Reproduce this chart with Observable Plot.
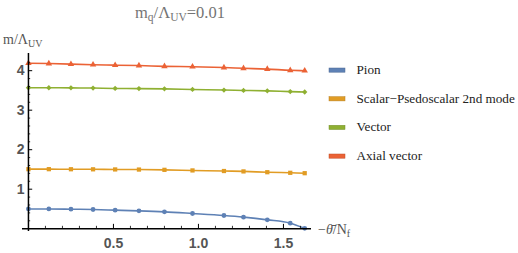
<!DOCTYPE html>
<html>
<head>
<meta charset="utf-8">
<script src="https://cdn.jsdelivr.net/npm/d3@7"></script>
<script src="https://cdn.jsdelivr.net/npm/@observablehq/plot@0.6"></script>
<style>
  html, body { margin: 0; padding: 0; background: #fff; }
  #wrap { position: relative; width: 518px; height: 253px; overflow: hidden; }
  #wrap > svg { position: absolute; left: 0; top: 0; }
</style>
</head>
<body>
<div id="wrap"></div>
<script>
// ---- data ----
const theta  = [0, 0.12, 0.25, 0.38, 0.51, 0.65, 0.8, 0.965, 1.15, 1.265, 1.405, 1.54, 1.625];
const pion   = [0.50, 0.50, 0.494, 0.486, 0.469, 0.452, 0.427, 0.385, 0.334, 0.292, 0.224, 0.14, 0.01];
const scalar = [1.507, 1.507, 1.505, 1.503, 1.50, 1.497, 1.49, 1.475, 1.46, 1.45, 1.43, 1.415, 1.405];
const vector = [3.567, 3.567, 3.565, 3.56, 3.55, 3.547, 3.54, 3.525, 3.51, 3.50, 3.49, 3.47, 3.46];
const axial  = [4.19, 4.18, 4.165, 4.15, 4.14, 4.13, 4.11, 4.10, 4.08, 4.06, 4.04, 4.01, 4.00];
const seriesNames = ["Pion", "Scalar\u2212Psedoscalar 2nd mode", "Vector", "Axial vector"];
const seriesColors = ["#5E81B5", "#E19C24", "#8FB032", "#EB6235"];
const seriesSymbols = ["circle", "square", "diamond2", "triangle"];
const xTicks = [0.5, 1.0, 1.5];
const xTickLabels = ["0.5", "1.0", "1.5"];
const yTicks = [1, 2, 3, 4];
const yTickLabels = ["1", "2", "3", "4"];
const xMinor = d3.range(1, 17).map(i => i / 10).filter(v => Math.abs(v * 2 - Math.round(v * 2)) > 1e-9);
const yMinor = d3.range(1, 22).map(i => i / 5).filter(v => Math.abs(v - Math.round(v)) > 1e-9);

const allValues = [pion, scalar, vector, axial];
const rows = [];
allValues.forEach((vals, s) => vals.forEach((v, i) => rows.push({series: seriesNames[s], x: theta[i], y: v, sym: seriesSymbols[s]})));

const chart = Plot.plot({
  width: 518, height: 253,
  marginLeft: 22, marginRight: 207, marginTop: 53, marginBottom: 22,
  x: {domain: [-0.035, 1.665], axis: null},
  y: {domain: [-0.071, 4.435], axis: null},
  color: {domain: seriesNames, range: seriesColors, legend: false},
  symbol: {domain: seriesSymbols, range: seriesSymbols, legend: false},
  marks: [
    Plot.line(rows, {x: "x", y: "y", z: "series", stroke: "series", strokeWidth: 1.6, curve: "monotone-x"}),
    Plot.dot(rows, {x: "x", y: "y", fill: "series", symbol: "sym", r: 2.4, stroke: "none"}),
    // axes
    Plot.ruleY([0], {stroke: "#000", strokeWidth: 1.5}),
    Plot.ruleX([0], {stroke: "#000", strokeWidth: 1.5}),
    // ticks
    Plot.ruleX(xTicks, {x: d => d, y1: 0, y2: 0.11, stroke: "#000", strokeWidth: 1}),
    Plot.ruleX(xMinor, {x: d => d, y1: 0, y2: 0.06, stroke: "#000", strokeWidth: 0.8}),
    Plot.ruleY(yTicks, {y: d => d, x1: 0, x2: 0.025, stroke: "#000", strokeWidth: 1}),
    Plot.ruleY(yMinor, {y: d => d, x1: 0, x2: 0.013, stroke: "#000", strokeWidth: 0.8}),
    // tick labels
    Plot.text(xTicks, {x: d => d, y: 0, text: (d, i) => xTickLabels[i], dy: 14.5, fill: "#555", fontSize: 14, fontWeight: "bold", fontFamily: "Liberation Sans, Arial, sans-serif"}),
    Plot.text(yTicks, {x: 0, y: d => d, text: (d, i) => yTickLabels[i], dx: -4, textAnchor: "end", fill: "#555", fontSize: 14, fontWeight: "bold", fontFamily: "Liberation Sans, Arial, sans-serif"})
  ]
});
document.getElementById("wrap").appendChild(chart);

// ---- overlay text: title, axis labels, legend ----
const ov = d3.select("#wrap").append("svg")
  .attr("width", 518).attr("height", 253)
  .style("font-family", "'Liberation Serif', 'Times New Roman', serif");

// title
const t = ov.append("text").attr("x", 180).attr("y", 17.5).attr("text-anchor", "middle")
  .attr("fill", "#747474").attr("font-size", 16.5);
t.append("tspan").text("m");
t.append("tspan").attr("dy", 3.5).attr("font-size", 11.5).text("q");
t.append("tspan").attr("dy", -3.5).text("/\u039B");
t.append("tspan").attr("dy", 3.5).attr("font-size", 11.5).text("UV");
t.append("tspan").attr("dy", -3.5).text("=0.01");

// y label
const yl = ov.append("text").attr("x", 3).attr("y", 44).attr("fill", "#555").attr("font-size", 14);
yl.append("tspan").text("m/\u039B");
yl.append("tspan").attr("dy", 3).attr("font-size", 10).text("UV");

// x label
const xl = ov.append("text").attr("x", 318).attr("y", 233.5).attr("fill", "#555").attr("font-size", 14);
xl.append("tspan").text("\u2212");
xl.append("tspan").attr("font-style", "italic").text("\u03B8\u0304");
xl.append("tspan").text("/N");
xl.append("tspan").attr("dy", 3).attr("font-size", 10).text("f");

// legend
const legY = [70, 98.7, 127.3, 156];
seriesNames.forEach((name, i) => {
  ov.append("rect").attr("x", 329).attr("y", legY[i] - 2).attr("width", 16).attr("height", 4.2)
    .attr("fill", seriesColors[i]).attr("stroke", d3.color(seriesColors[i]).darker(0.6)).attr("stroke-width", 0.5);
  ov.append("text").attr("x", 356.5).attr("y", legY[i] + 4).attr("fill", "#222").attr("font-size", 13.2).text(name);
});
</script>
</body>
</html>
